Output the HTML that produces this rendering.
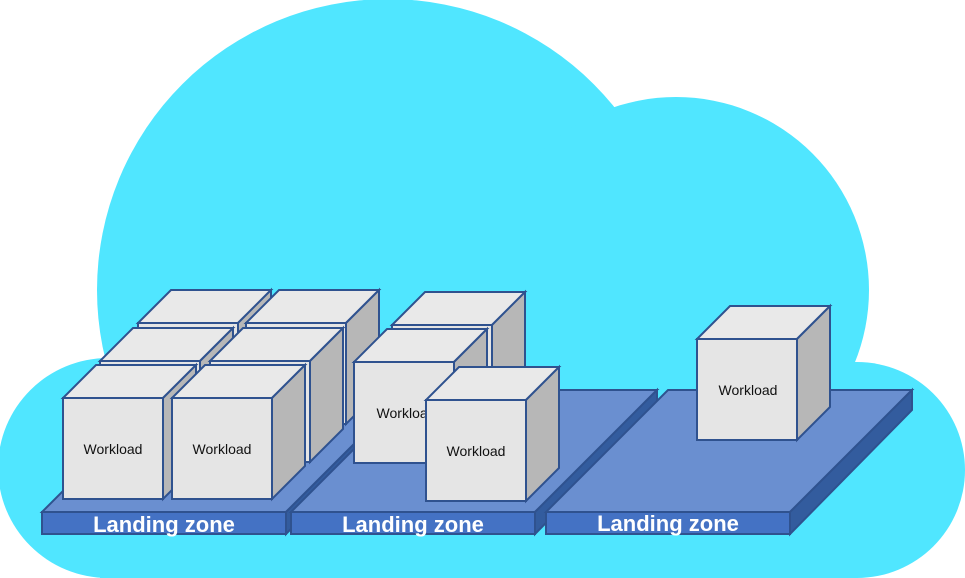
<!DOCTYPE html>
<html><head><meta charset="utf-8"><style>
html,body{margin:0;padding:0;background:#fff;}
svg{display:block;}
text{font-family:"Liberation Sans",sans-serif;}
</style></head><body>
<svg width="965" height="578" viewBox="0 0 965 578" xmlns="http://www.w3.org/2000/svg">
<g fill="#50E6FF">
<circle cx="388" cy="290" r="291"/>
<circle cx="676" cy="290" r="193"/>
<circle cx="108" cy="468" r="110"/>
<circle cx="857" cy="470" r="108"/>
<rect x="100" y="362" width="758" height="216"/>
</g>
<defs>
<g id="plat">
<polygon points="0,0 244,0 366,-122 122,-122" fill="#6A8FD0" stroke="#2F528F" stroke-width="2"/>
<polygon points="244,0 366,-122 366,-102 244,22" fill="#335C9E" stroke="#2F528F" stroke-width="2"/>
<rect x="0" y="0" width="244" height="22" fill="#4472C4" stroke="#2F528F" stroke-width="2"/>
</g>
<g id="cube">
<polygon points="0,0 100,0 133,-33 33,-33" fill="#E9E9E9" stroke="#2F528F" stroke-width="2"/>
<polygon points="100,0 133,-33 133,68 100,101" fill="#B7B7B7" stroke="#2F528F" stroke-width="2"/>
<rect x="0" y="0" width="100" height="101" fill="#E5E5E5" stroke="#2F528F" stroke-width="2"/>
</g>
</defs>
<use href="#plat" x="42" y="512"/>
<use href="#plat" x="291" y="512"/>
<use href="#plat" x="546" y="512"/>
<g font-size="14" fill="#111" text-anchor="middle">
<use href="#cube" x="138" y="323"/>
<use href="#cube" x="246" y="323"/>
<use href="#cube" x="100" y="361"/>
<use href="#cube" x="210" y="361"/>
<use href="#cube" x="63" y="398"/>
<text x="113" y="454">Workload</text>
<use href="#cube" x="172" y="398"/>
<text x="222" y="454">Workload</text>
<use href="#cube" x="392" y="325"/>
<use href="#cube" x="354" y="362"/>
<text x="406" y="418">Workload</text>
<use href="#cube" x="426" y="400"/>
<text x="476" y="456">Workload</text>
<use href="#cube" x="697" y="339"/>
<text x="748" y="395">Workload</text>
</g>
<g font-size="22" font-weight="bold" fill="#fff" text-anchor="middle">
<text x="164" y="532">Landing zone</text>
<text x="413" y="532">Landing zone</text>
<text x="668" y="531">Landing zone</text>
</g>
</svg>
</body></html>
